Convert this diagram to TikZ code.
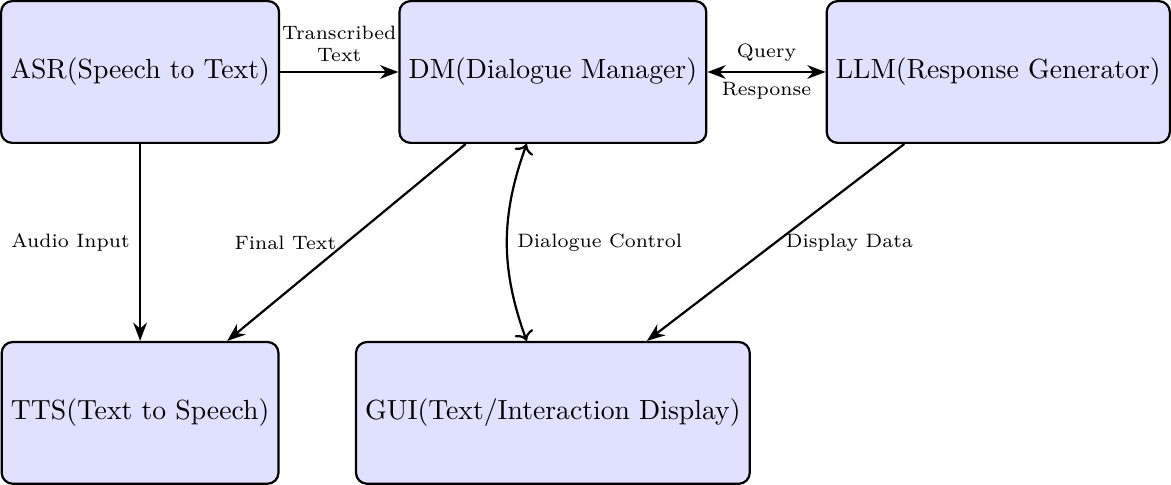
\documentclass[tikz,border=0pt]{standalone}
\usetikzlibrary{positioning,arrows.meta}
\begin{document}
\begin{tikzpicture}[
  block/.style={draw, thick, rounded corners, fill=blue!12, minimum height=1.8cm},
  conn/.style={-Stealth, thick},
  lbl/.style={font=\scriptsize}
]     % speech dialogue pipeline
\node[block] (asr) {ASR(Speech to Text)};
\node[block, right=1.5cm of asr] (dm) {DM(Dialogue Manager)};
\node[block, right=1.5cm of dm] (llm) {LLM(Response Generator)};
\node[block, below=2.5cm of asr] (tts) {TTS(Text to Speech)};
\node[block, below=2.5cm of dm] (gui) {GUI(Text/Interaction Display)};

\draw[conn] (asr) -- node[lbl, above, align=center]{Transcribed\\Text} (dm);
\draw[conn, Stealth-Stealth] (dm) -- node[lbl, above]{Query} node[lbl, below]{Response} (llm);
\draw[conn] (asr) -- node[lbl, left]{Audio Input} (tts);
\draw[conn] (dm) -- node[lbl, left]{Final Text} (tts);
\draw[thick, <->] (dm.250) to[bend right=20] node[lbl, right]{Dialogue Control} (gui.110);
\draw[conn] (llm) -- node[lbl, right]{Display Data} (gui);
\end{tikzpicture}
\end{document}
